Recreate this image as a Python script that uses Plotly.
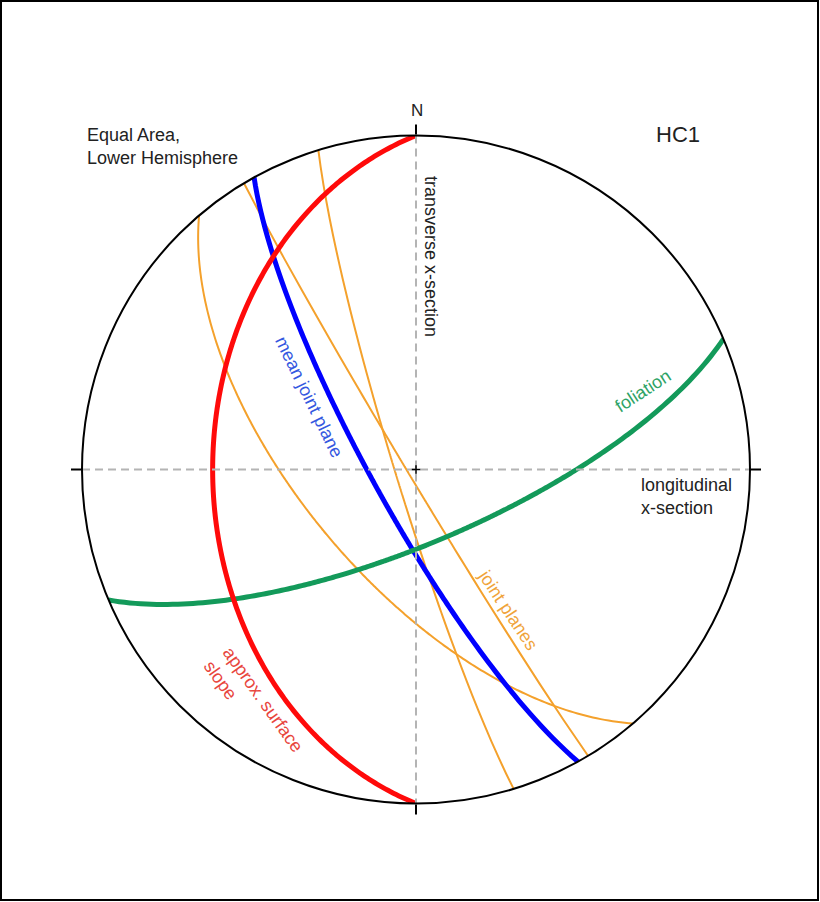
import numpy as np
import plotly.graph_objects as go

# Planes given as (dip direction, dip) in degrees
slope_dip_dir, slope_dip = 270.0, 39.0            # approx. surface slope
mean_joint_dip_dir, mean_joint_dip = 241.0, 79.5  # mean joint plane
foliation_dip_dir, foliation_dip = 157.0, 72.0    # foliation
joint_dip_dirs = [229.5, 239.0, 253.0]            # individual joint planes
joint_dips = [63.0, 88.0, 85.0]

W, H = 820, 902
CX, CY, R = 416.0, 469.5, 334.0  # net centre and radius in pixels


def great_circle(dip_dir, dip, n=361):
    """Equal-area (lower hemisphere) trace of a plane: azimuth and radius."""
    az = np.linspace(dip_dir - 90.0, dip_dir + 90.0, n)
    plunge = np.degrees(np.arctan(np.tan(np.radians(dip)) *
                                  np.cos(np.radians(az - dip_dir))))
    r = np.sqrt(2.0) * np.sin(np.radians(90.0 - plunge) / 2.0)
    return np.mod(az, 360.0), r


def px(x):
    return x / W


def py(y):
    return 1.0 - y / H


fig = go.Figure()

# joint planes
for dd, dp in zip(joint_dip_dirs, joint_dips):
    th, r = great_circle(dd, dp)
    fig.add_trace(go.Scatterpolar(theta=th, r=r, mode="lines",
                                  line=dict(color="#f4a12c", width=2)))

# mean joint plane
th, r = great_circle(mean_joint_dip_dir, mean_joint_dip)
fig.add_trace(go.Scatterpolar(theta=th, r=r, mode="lines",
                              line=dict(color="#0000ff", width=5)))

# foliation
th, r = great_circle(foliation_dip_dir, foliation_dip)
fig.add_trace(go.Scatterpolar(theta=th, r=r, mode="lines",
                              line=dict(color="#139a5a", width=5)))

# approximate surface slope
th, r = great_circle(slope_dip_dir, slope_dip)
fig.add_trace(go.Scatterpolar(theta=th, r=r, mode="lines",
                              line=dict(color="#ff0a0a", width=5)))

# section lines (N-S transverse, E-W longitudinal)
for a, b in [(0, 180), (270, 90)]:
    fig.add_trace(go.Scatterpolar(theta=[a, a, b], r=[1, 0, 1], mode="lines",
                                  line=dict(color="#b4b4b4", width=2, dash="8px,5px")))

# centre mark
fig.add_trace(go.Scatterpolar(theta=[0], r=[0], mode="markers",
                              marker=dict(symbol="cross-thin", size=6,
                                          line=dict(color="black", width=1.5))))

FONT = "Liberation Sans, Arial, Helvetica, sans-serif"
ann = []


def label(x, y, text, color="#222222", size=18, angle=0, xanchor="center",
          yanchor="middle", align="center"):
    ann.append(dict(x=px(x), y=py(y), xref="paper", yref="paper", text=text,
                    showarrow=False, textangle=angle, xanchor=xanchor,
                    yanchor=yanchor, align=align,
                    font=dict(family=FONT, size=size, color=color)))


label(85, 146, "Equal Area,<br>Lower Hemisphere", xanchor="left", align="left")
label(678, 134, "HC1", size=22)
label(417, 111, "N", size=17)
label(431, 256, "transverse x-section", angle=90)
label(639, 496, "longitudinal<br>x-section", xanchor="left", align="left")
label(643, 391, "foliation", color="#2ea366", angle=-33)
label(309, 397, "mean joint plane", color="#3558e0", angle=64)
label(508, 610, "joint planes", color="#f0a33a", angle=56.5)
label(254, 706, "approx. surface<br>slope", color="#e8453c", angle=54.5,
      align="left")

fig.update_layout(
    width=W, height=H,
    margin=dict(l=0, r=0, t=0, b=0),
    paper_bgcolor="white",
    plot_bgcolor="white",
    showlegend=False,
    annotations=ann,
    shapes=[dict(type="rect", xref="paper", yref="paper",
                 x0=px(1), x1=px(818), y0=py(900), y1=py(1),
                 line=dict(color="black", width=2))],
    polar=dict(
        domain=dict(x=[px(CX - R), px(CX + R)], y=[py(CY + R), py(CY - R)]),
        bgcolor="white",
        radialaxis=dict(range=[0, 1], visible=False, showgrid=False),
        angularaxis=dict(rotation=90, direction="clockwise", showgrid=False,
                         showline=True, linecolor="black", linewidth=2,
                         ticks="outside", ticklen=10, tickwidth=2,
                         tickcolor="black", tickvals=[0, 90, 180, 270],
                         showticklabels=False),
    ),
)

fig.write_html("out.html")
